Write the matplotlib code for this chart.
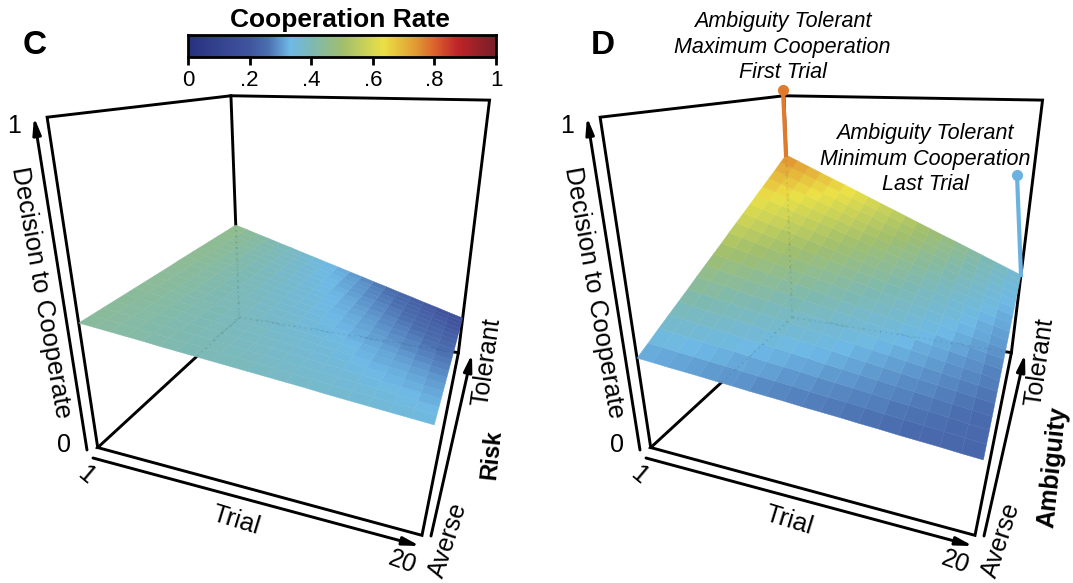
import numpy as np
import matplotlib
matplotlib.use('Agg')
import matplotlib.pyplot as plt
from matplotlib.colors import LinearSegmentedColormap
from mpl_toolkits.mplot3d.art3d import Line3DCollection

W, H_ = 1073, 583
plt.rcParams['font.family'] = ['Liberation Sans', 'DejaVu Sans']

trials = list(range(1, 21))
levels = [i / 19 for i in range(20)]   # 0 = averse, 1 = tolerant

rate_c = [
 [.433,.428,.423,.418,.413,.407,.402,.397,.392,.387,.382,.377,.372,.367,.361,.356,.351,.346,.341,.336],
 [.434,.428,.423,.417,.411,.406,.400,.395,.389,.383,.378,.372,.366,.361,.355,.350,.344,.338,.333,.327],
 [.435,.429,.423,.416,.410,.404,.398,.392,.385,.379,.373,.367,.360,.354,.348,.342,.336,.329,.323,.317],
 [.436,.429,.423,.416,.409,.402,.396,.389,.382,.375,.369,.362,.355,.348,.342,.335,.328,.321,.315,.308],
 [.437,.430,.422,.415,.408,.401,.393,.386,.379,.372,.364,.357,.350,.343,.335,.328,.321,.314,.306,.299],
 [.438,.430,.422,.414,.407,.399,.391,.383,.375,.367,.360,.352,.344,.336,.328,.320,.313,.305,.297,.289],
 [.439,.431,.422,.414,.406,.397,.389,.380,.372,.364,.355,.347,.339,.330,.322,.313,.305,.297,.288,.280],
 [.440,.431,.422,.413,.404,.396,.387,.378,.369,.360,.351,.342,.333,.324,.316,.307,.298,.289,.280,.271],
 [.441,.432,.422,.413,.403,.394,.384,.375,.365,.356,.346,.337,.327,.318,.308,.299,.289,.280,.270,.261],
 [.442,.432,.422,.412,.402,.392,.382,.372,.362,.352,.342,.332,.322,.312,.302,.292,.282,.272,.262,.252],
 [.444,.433,.423,.412,.402,.391,.381,.370,.359,.349,.338,.328,.317,.306,.296,.285,.275,.264,.254,.243],
 [.445,.434,.423,.412,.401,.389,.378,.367,.356,.345,.334,.323,.312,.301,.289,.278,.267,.256,.245,.234],
 [.446,.434,.423,.411,.399,.388,.376,.364,.353,.341,.329,.318,.306,.294,.282,.271,.259,.247,.236,.224],
 [.447,.435,.423,.410,.398,.386,.374,.362,.349,.337,.325,.313,.300,.288,.276,.264,.252,.239,.227,.215],
 [.448,.435,.423,.410,.397,.384,.372,.359,.346,.333,.321,.308,.295,.282,.270,.257,.244,.231,.219,.206],
 [.449,.436,.422,.409,.396,.382,.369,.356,.342,.329,.316,.302,.289,.276,.263,.249,.236,.223,.209,.196],
 [.450,.436,.422,.408,.395,.381,.367,.353,.339,.325,.312,.298,.284,.270,.256,.242,.229,.215,.201,.187],
 [.451,.437,.422,.408,.394,.379,.365,.350,.336,.322,.307,.293,.279,.264,.250,.235,.221,.207,.192,.178],
 [.452,.437,.422,.407,.392,.377,.362,.347,.332,.317,.303,.288,.273,.258,.243,.228,.213,.198,.183,.168],
 [.453,.438,.422,.407,.391,.376,.360,.345,.329,.314,.298,.283,.267,.252,.236,.221,.205,.190,.174,.159],
]

rate_d = [
 [.319,.315,.310,.306,.302,.297,.293,.288,.284,.280,.275,.271,.267,.262,.258,.253,.249,.245,.240,.236],
 [.342,.337,.331,.326,.321,.316,.310,.305,.300,.295,.289,.284,.279,.274,.268,.263,.258,.253,.247,.242],
 [.366,.360,.353,.347,.341,.335,.328,.322,.316,.310,.303,.297,.291,.285,.278,.272,.266,.260,.253,.247],
 [.389,.382,.375,.368,.360,.353,.346,.339,.332,.325,.317,.310,.303,.296,.289,.282,.275,.267,.260,.253],
 [.412,.404,.396,.388,.380,.372,.364,.356,.348,.340,.332,.323,.315,.307,.299,.291,.283,.275,.267,.259],
 [.435,.426,.417,.408,.399,.390,.381,.372,.363,.354,.346,.337,.328,.319,.310,.301,.292,.283,.274,.265],
 [.459,.449,.439,.429,.419,.409,.399,.389,.379,.369,.360,.350,.340,.330,.320,.310,.300,.290,.280,.270],
 [.482,.471,.460,.449,.439,.428,.417,.406,.395,.384,.374,.363,.352,.341,.330,.319,.309,.298,.287,.276],
 [.505,.493,.482,.470,.458,.446,.435,.423,.411,.399,.388,.376,.364,.352,.341,.329,.317,.305,.294,.282],
 [.528,.515,.503,.490,.477,.465,.452,.440,.427,.414,.402,.389,.376,.364,.351,.339,.326,.313,.301,.288],
 [.552,.538,.525,.511,.497,.484,.470,.457,.443,.429,.416,.402,.388,.375,.361,.348,.334,.320,.307,.293],
 [.575,.560,.546,.531,.517,.502,.488,.473,.459,.444,.430,.415,.401,.386,.372,.357,.343,.328,.314,.299],
 [.598,.583,.567,.552,.536,.521,.505,.490,.475,.459,.444,.428,.413,.397,.382,.367,.351,.336,.320,.305],
 [.621,.605,.588,.572,.556,.539,.523,.507,.490,.474,.458,.441,.425,.409,.393,.376,.360,.344,.327,.311],
 [.645,.628,.610,.593,.576,.558,.541,.524,.506,.489,.472,.454,.437,.420,.403,.385,.368,.351,.333,.316],
 [.668,.650,.632,.613,.595,.577,.559,.541,.522,.504,.486,.468,.449,.431,.413,.395,.377,.358,.340,.322],
 [.691,.672,.653,.634,.615,.595,.576,.557,.538,.519,.500,.481,.462,.443,.423,.404,.385,.366,.347,.328],
 [.714,.694,.674,.654,.634,.614,.594,.574,.554,.534,.514,.494,.474,.454,.434,.414,.394,.374,.354,.334],
 [.738,.717,.696,.675,.654,.633,.612,.591,.570,.549,.528,.507,.486,.465,.444,.423,.402,.381,.360,.339],
 [.761,.739,.717,.695,.673,.652,.630,.608,.586,.564,.542,.520,.498,.476,.455,.433,.411,.389,.367,.345],
]

cbar_ticks = [0, .2, .4, .6, .8, 1]
cbar_labels = ['0', '.2', '.4', '.6', '.8', '1']

cmap_pos = [0, .2, .26, .33, .4, .5, .636, .745, .8, .875, 1]
cmap_col = ['#28327f', '#41559f', '#4b6fb0', '#6eb9e6', '#7db9b4', '#a0be6e',
            '#ebe146', '#e19632', '#dc642d', '#c0252a', '#781e28']
cmap = LinearSegmentedColormap.from_list('coop', list(zip(cmap_pos, cmap_col)))

# camera calibration: where the corners of the (trial, level, rate) box sit on the page
world = [(1,0,0),(20,0,0),(20,1,0),(1,1,0),(1,0,1),(20,1,1),(1,1,1)]
page = [(97,448),(422,535),(458,353),(240,317),(48,117),(490,100),(230,96)]

def camera(dx):
    rows = []
    for (a, b, c), (u, v) in zip(world, page):
        u = u + dx
        X = [a, b, c, 1]
        rows.append(X + [0, 0, 0, 0] + [-u * k for k in X])
        rows.append([0, 0, 0, 0] + X + [-v * k for k in X])
    _, _, Vt = np.linalg.svd(np.array(rows, float))
    P = Vt[-1].reshape(3, 4)
    return P if P[2] @ [1, 0, 0, 1] > 0 else -P

fig = plt.figure(figsize=(W / 100, H_ / 100), dpi=100)

def panel(dx, rate):
    P = camera(dx)
    ax = fig.add_axes([0, 0, 1, 1], projection='3d')
    ax.set_axis_off()
    ax.patch.set_alpha(0)
    ax.computed_zorder = False
    ax.apply_aspect = lambda position=None: None
    ax.set_position([0, 0, 1, 1])

    def getproj():
        vl = ax.viewLim
        Tm = np.array([[(vl.x1 - vl.x0) / W, 0, vl.x0],
                       [0, -(vl.y1 - vl.y0) / H_, vl.y1],
                       [0, 0, 1.]])
        Q = Tm @ P
        Q = Q / np.abs(Q).max()
        return np.vstack([Q[0], Q[1], [0, 0, 0, 1], Q[2]])
    ax.get_proj = getproj

    box_paths = [[(1, 1, 0), (1, 0, 0), (20, 0, 0), (20, 1, 0), (1, 1, 0)],
                 [(1, 0, 0), (1, 0, 1), (1, 1, 1), (20, 1, 1), (20, 1, 0)],
                 [(1, 1, 1), (1, 1, 0)]]
    ax.add_collection3d(Line3DCollection(box_paths, colors='k', linewidths=2.1,
                                         capstyle='projecting', joinstyle='miter', zorder=1),
                        autolim=False)

    T, R = np.meshgrid(trials, levels)
    Z = np.array(rate)
    ax.plot_surface(T, R, Z, facecolors=cmap(Z), rstride=1, cstride=1,
                    shade=False, linewidth=0.3, zorder=2)

    hidden = [[(1, 1, rate[-1][0]), (1, 1, 0)], [(1, 1, 0), (1, 0, 0)], [(1, 1, 0), (20, 1, 0)]]
    ax.add_collection3d(Line3DCollection(hidden, colors='#4a5a60', linewidths=1,
                                         linestyles=[(0, (1, 3))], alpha=.2, zorder=3),
                        autolim=False)
    return ax

panel(0, rate_c)
panel(553, rate_d)

ov = fig.add_axes([0, 0, 1, 1])
ov.set_xlim(0, W)
ov.set_ylim(H_, 0)
ov.axis('off')
ov.patch.set_alpha(0)

def arrow(p0, p1):
    ov.annotate('', xy=p1, xytext=p0,
                arrowprops=dict(arrowstyle='-|>,head_width=0.22,head_length=0.9', lw=2.1,
                                color='k', shrinkA=0, shrinkB=0, mutation_scale=11))

FS = 18.5
for dx, name, bold_xy, fs in [(0, 'Risk', (492, 455), 17), (553, 'Ambiguity', (1053, 467), 18)]:
    arrow((93 + dx, 458), (420 + dx, 546))
    arrow((431 + dx, 536), (472 + dx, 354))
    arrow((87 + dx, 450), (34 + dx, 117))
    ov.text(14 + dx, 126, '1', fontsize=18, ha='center', va='center')
    ov.text(64 + dx, 445, '0', fontsize=18, ha='center', va='center')
    ov.text(86 + dx, 475, '1', fontsize=18, ha='center', va='center', rotation=-40)
    ov.text(402 + dx, 562, '20', fontsize=18, ha='center', va='center', rotation=-20)
    ov.text(236 + dx, 520, 'Trial', fontsize=FS, ha='center', va='center', rotation=-17)
    ov.text(448 + dx, 540, 'Averse', fontsize=18, ha='center', va='center', rotation=72)
    ov.text(487 + dx, 362, 'Tolerant', fontsize=18, ha='center', va='center', rotation=82)
    ov.text(bold_xy[0], bold_xy[1], name, fontsize=fs, fontweight='bold',
            ha='center', va='center', rotation=84)
    ov.text(41 + dx, 292, 'Decision to Cooperate', fontsize=FS, ha='center', va='center', rotation=-80)

ov.text(35, 45, 'C', fontsize=24, fontweight='bold', ha='center', va='center')
ov.text(603, 45, 'D', fontsize=24, fontweight='bold', ha='center', va='center')
ov.text(340, 20, 'Cooperation Rate', fontsize=19, fontweight='bold', ha='center', va='center')

notes = [((783, 22), 'Ambiguity Tolerant'), ((782, 47), 'Maximum Cooperation'), ((783, 72), 'First Trial'),
         ((925, 133), 'Ambiguity Tolerant'), ((925, 159), 'Minimum Cooperation'), ((925, 184), 'Last Trial')]
for (x, y), s in notes:
    ov.text(x, y, s, fontsize=15.5, fontstyle='italic', ha='center', va='center')

ov.plot([783, 786], [90, 155], color='#e07b2e', lw=3, zorder=5)
ov.plot([783], [90], 'o', color='#e07b2e', ms=7, zorder=5)
ov.plot([1017, 1021], [175, 275], color='#6cb2e0', lw=3, zorder=5)
ov.plot([1017], [175], 'o', color='#6cb2e0', ms=7, zorder=5)

cb = fig.add_axes([188 / W, 1 - 57 / H_, 308 / W, 22 / H_])
cb.imshow(np.linspace(0, 1, 256)[None, :], cmap=cmap, aspect='auto', extent=[0, 1, 0, 1], vmin=0, vmax=1)
cb.set_yticks([])
cb.set_xticks(cbar_ticks)
cb.set_xticklabels(cbar_labels, fontsize=16)
cb.tick_params(axis='x', length=6, width=2, pad=3)
for s in cb.spines.values():
    s.set_linewidth(2)

fig.savefig('out.png', dpi=100)
